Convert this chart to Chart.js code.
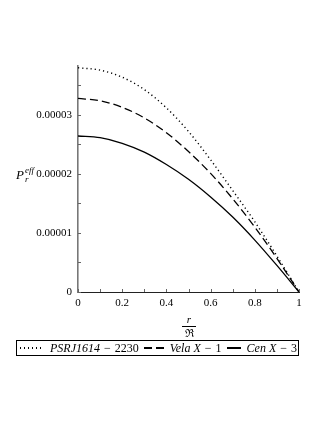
<!DOCTYPE html>
<html>
<head>
<meta charset="utf-8">
<script src="https://cdn.jsdelivr.net/npm/chart.js@4"></script>
<style>
  body { margin: 0; background: #fff; }
  #wrap { position: relative; width: 327px; height: 423px; font-family: 'Liberation Serif', 'DejaVu Serif', serif; }
  #wrap canvas { position: absolute; left: 0; top: 0; }
  .ytitle { position: absolute; left: 16px; top: 166px; font-style: italic; font-size: 13px; display: flex; align-items: center; }
  .ytitle .ss { display: inline-flex; flex-direction: column; font-size: 9px; line-height: 9px; margin-left: 1px; }
  .xtitle { position: absolute; left: 180px; top: 314px; width: 18px; text-align: center; font-size: 11px; line-height: 11px; }
  .xtitle .num { font-style: italic; }
  .xtitle .bar { border-top: 1px solid #000; margin: 1px 2px 1px; }
  #legend { position: absolute; left: 16px; top: 340px; width: 278px; height: 14px; border: 1px solid #000;
            display: flex; align-items: center; font-size: 12px; white-space: nowrap; padding-left: 3px; box-sizing: content-box; }
  #legend .smp { display: inline-block; height: 1.3px; margin: 0 6px 0 0; }
  #legend .item { display: inline-flex; align-items: center; margin-right: 5px; }
  #legend i { font-style: italic; }
  #legend .op { margin: 0 4px; }
</style>
</head>
<body>
<div id="wrap">
  <canvas id="myChart" width="327" height="423"></canvas>
  <div class="ytitle">P<span class="ss"><span>eff</span><span>r</span></span></div>
  <div class="xtitle"><div class="num">r</div><div class="bar"></div><div>ℜ</div></div>
  <div id="legend"></div>
</div>
<script>
// r / R
const rValues = [0, 0.1, 0.2, 0.3, 0.4, 0.5, 0.6, 0.7, 0.8, 0.9, 1];
// effective radial pressure
const psrValues  = [3.80e-5, 3.76e-5, 3.64e-5, 3.43e-5, 3.12e-5, 2.72e-5, 2.24e-5, 1.72e-5, 1.19e-5, 0.61e-5, 0];
const velaValues = [3.28e-5, 3.24e-5, 3.13e-5, 2.95e-5, 2.70e-5, 2.38e-5, 2.01e-5, 1.58e-5, 1.10e-5, 0.57e-5, 0];
const cenValues  = [2.644e-5, 2.615e-5, 2.52e-5, 2.37e-5, 2.16e-5, 1.91e-5, 1.61e-5, 1.27e-5, 0.88e-5, 0.45e-5, 0];

const seriesNames = ['PSRJ1614 − 2230', 'Vela X − 1', 'Cen X − 3'];
const seriesDash = [[1.2, 3], [8, 4], []];
const seriesValues = [psrValues, velaValues, cenValues];

const datasets = seriesValues.map((vals, i) => ({
  label: seriesNames[i],
  data: rValues.map((r, j) => ({ x: r, y: vals[j] })),
  borderColor: '#000',
  borderWidth: i === 0 ? 1.4 : 1.3,
  borderDash: seriesDash[i],
  pointRadius: 0,
  cubicInterpolationMode: 'monotone',
  fill: false
}));

// small tick marks drawn inside the axes
const innerTicks = {
  id: 'innerTicks',
  afterDatasetsDraw(chart) {
    const { ctx, chartArea: a, scales: { x, y } } = chart;
    ctx.save();
    ctx.strokeStyle = '#666';
    ctx.lineWidth = 1;
    y.ticks.forEach(t => {
      if (Math.round(t.value / 1e-6) % 5 !== 0) return;
      const py = Math.round(y.getPixelForValue(t.value)) + 0.5;
      ctx.beginPath(); ctx.moveTo(a.left, py); ctx.lineTo(a.left + 3, py); ctx.stroke();
    });
    x.ticks.forEach(t => {
      const px = Math.round(x.getPixelForValue(t.value)) + 0.5;
      ctx.beginPath(); ctx.moveTo(px, a.bottom); ctx.lineTo(px, a.bottom - 3); ctx.stroke();
    });
    ctx.restore();
  }
};

const ctx = document.getElementById('myChart').getContext('2d');
new Chart(ctx, {
  type: 'line',
  data: { datasets },
  options: {
    responsive: false,
    animation: false,
    devicePixelRatio: 1,
    layout: { padding: { top: 66, right: 28, left: 0, bottom: 0 } },
    plugins: { legend: { display: false }, tooltip: { enabled: false } },
    scales: {
      x: {
        type: 'linear',
        min: 0,
        max: 1,
        afterFit: (s) => { s.height = 131; },
        grid: { display: false, drawTicks: false },
        border: { display: true, color: '#222', width: 1 },
        ticks: {
          stepSize: 0.1,
          autoSkip: false,
          maxRotation: 0,
          padding: 5,
          color: '#000',
          font: { family: 'Liberation Serif', size: 11 },
          callback: (v) => {
            const k = Math.round(v * 10);
            if (k % 2) return '';
            return k === 0 ? '0' : k === 10 ? '1' : (k / 10).toFixed(1);
          }
        }
      },
      y: {
        type: 'linear',
        min: 0,
        max: 3.83e-5,
        afterFit: (s) => { s.width = 78; },
        grid: { display: false, drawTicks: false },
        border: { display: true, color: '#777', width: 1.6 },
        ticks: {
          stepSize: 0.5e-5,
          autoSkip: false,
          padding: 6,
          color: '#000',
          font: { family: 'Liberation Serif', size: 11 },
          callback: (v) => {
            const k = Math.round(v / 1e-6);
            if (k % 10 !== 0) return '';
            return k === 0 ? '0' : (k / 1e6).toFixed(5);
          }
        }
      }
    }
  },
  plugins: [innerTicks]
});

// legend with dataset line styles
const legend = document.getElementById('legend');
const samples = [
  { w: 24, bg: 'repeating-linear-gradient(90deg,#000 0 1.2px,transparent 1.2px 4px)' },
  { w: 20, bg: 'repeating-linear-gradient(90deg,#000 0 8px,transparent 8px 12px)' },
  { w: 14, bg: '#000' }
];
seriesNames.forEach((name, i) => {
  const item = document.createElement('span');
  item.className = 'item';
  const smp = document.createElement('span');
  smp.className = 'smp';
  smp.style.width = samples[i].w + 'px';
  smp.style.background = samples[i].bg;
  item.appendChild(smp);
  const parts = name.split(' − ');
  const txt = document.createElement('span');
  txt.innerHTML = '<i>' + parts[0] + '</i><span class="op">−</span>' + parts[1];
  item.appendChild(txt);
  legend.appendChild(item);
});
</script>
</body>
</html>
